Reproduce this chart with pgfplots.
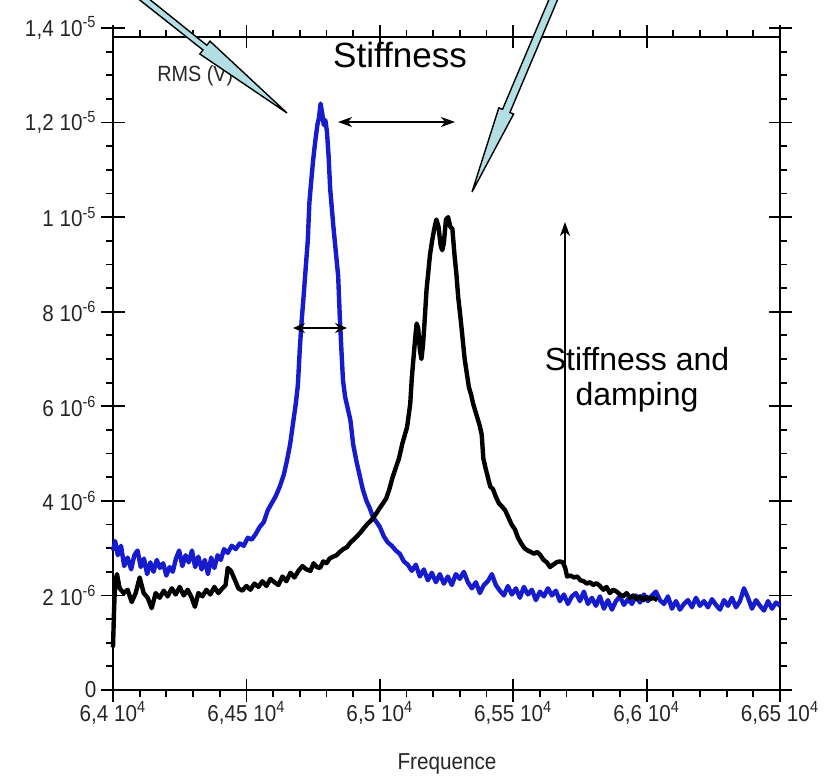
\documentclass[border=0pt]{standalone}
\usepackage{fontspec}
\setmainfont{Liberation Sans}
\newfontfamily\tickfont[FakeStretch=0.9]{Liberation Sans}
\usepackage{pgfplots}
\usepackage{pgfplotstable}
\pgfplotsset{compat=1.18}
\usetikzlibrary{arrows.meta}
\definecolor{curveblue}{RGB}{22,28,205}
\definecolor{callout}{RGB}{178,222,228}

% values in units of 1e-6 V
\pgfplotstableread{
f v
64000 2.95
64008 3.15
64018 2.85
64030 3.05
64042 2.62
64055 2.80
64068 2.55
64080 2.85
64092 2.95
64104 2.60
64116 2.78
64128 2.45
64140 2.70
64152 2.50
64164 2.75
64176 2.58
64188 2.68
64200 2.42
64212 2.60
64224 2.50
64236 2.78
64248 2.95
64260 2.62
64272 2.85
64284 2.70
64296 2.95
64308 2.60
64320 2.82
64332 2.55
64344 2.75
64356 2.45
64368 2.80
64380 2.58
64392 2.85
64404 2.75
64416 2.98
64430 2.90
64445 3.05
64460 2.98
64475 3.10
64490 3.05
64505 3.22
64520 3.18
64535 3.30
64550 3.45
64565 3.55
64580 3.80
64595 3.95
64610 4.10
64625 4.30
64640 4.55
64652 4.85
64664 5.20
64675 5.65
64685 6.05
64693 6.45
64700 7.20
64707 7.80
64714 8.30
64722 8.90
64730 9.50
64736 10.30
64742 10.70
64750 11.20
64758 11.60
64766 11.95
64772 12.10
64778 12.40
64784 12.20
64790 11.95
64796 12.05
64802 11.80
64808 11.30
64814 10.60
64820 10.20
64826 9.80
64832 9.45
64838 9.10
64844 8.75
64850 7.90
64856 7.20
64862 6.55
64870 6.20
64880 5.95
64890 5.70
64900 5.20
64912 4.85
64924 4.55
64936 4.25
64950 4.00
64962 3.85
64975 3.65
64988 3.55
65000 3.45
65015 3.25
65030 3.12
65045 3.05
65060 2.95
65075 2.88
65090 2.72
65105 2.65
65120 2.52
65135 2.65
65150 2.40
65165 2.55
65180 2.32
65195 2.48
65210 2.28
65225 2.45
65240 2.25
65255 2.40
65270 2.22
65285 2.45
65300 2.35
65315 2.50
65330 2.28
65345 2.15
65360 2.28
65375 2.05
65390 2.22
65405 2.30
65420 2.45
65435 2.22
65450 2.10
65465 2.00
65480 2.20
65495 2.02
65510 2.15
65525 1.95
65540 2.18
65555 2.02
65570 2.12
65585 1.90
65600 2.08
65615 1.98
65630 2.15
65645 2.00
65660 2.10
65675 1.88
65690 2.02
65705 1.82
65720 1.98
65735 2.05
65750 1.88
65765 2.08
65780 1.82
65795 1.95
65810 1.78
65825 1.98
65840 1.72
65855 1.90
65870 1.70
65885 1.88
65900 1.98
65915 1.80
65930 1.92
65945 1.82
65960 2.00
65975 1.85
65990 2.02
66005 1.88
66020 2.00
66035 2.08
66050 1.90
66065 1.82
66080 1.98
66095 1.72
66110 1.88
66125 1.70
66140 1.82
66155 1.90
66170 1.75
66185 1.95
66200 1.78
66215 1.88
66230 1.75
66245 1.92
66260 1.80
66275 1.70
66290 1.90
66305 1.78
66320 1.95
66335 1.75
66350 1.88
66365 2.15
66380 1.95
66395 1.72
66410 1.90
66425 1.78
66440 1.68
66455 1.88
66470 1.72
66485 1.85
66500 1.78
}\bluedata

\pgfplotstableread{
f v
64000 0.90
64004 1.70
64008 2.30
64015 2.45
64025 2.15
64040 2.05
64055 2.12
64070 1.86
64085 2.05
64100 2.38
64115 2.05
64130 1.95
64145 1.73
64160 2.05
64175 1.95
64190 2.10
64205 1.98
64220 2.15
64235 2.02
64250 2.18
64265 2.00
64280 2.12
64295 1.95
64307 1.76
64320 2.05
64335 1.98
64350 2.12
64365 2.02
64380 2.18
64395 2.05
64410 2.15
64422 2.22
64430 2.58
64442 2.52
64455 2.35
64470 2.15
64485 2.10
64500 2.20
64515 2.12
64530 2.25
64545 2.18
64560 2.30
64575 2.20
64590 2.35
64605 2.28
64620 2.22
64635 2.40
64650 2.30
64665 2.48
64680 2.38
64695 2.52
64710 2.62
64725 2.55
64740 2.52
64752 2.68
64764 2.60
64776 2.58
64788 2.72
64800 2.68
64812 2.78
64825 2.82
64838 2.85
64850 2.92
64863 2.98
64877 3.02
64890 3.12
64902 3.18
64914 3.25
64926 3.32
64940 3.42
64955 3.52
64970 3.60
64985 3.72
65000 3.85
65012 3.95
65024 4.05
65036 4.25
65048 4.50
65060 4.70
65072 4.90
65084 5.20
65094 5.40
65102 5.55
65108 5.80
65114 6.05
65120 6.60
65126 7.00
65132 7.40
65138 7.75
65144 7.65
65150 7.20
65156 7.00
65162 7.30
65168 7.80
65175 8.45
65182 8.85
65188 9.20
65196 9.50
65204 9.75
65212 9.95
65220 9.80
65228 9.40
65234 9.30
65240 9.45
65248 9.95
65256 10.00
65264 9.80
65272 9.75
65280 9.20
65287 8.80
65294 8.30
65302 7.90
65310 7.45
65318 7.00
65326 6.70
65334 6.40
65342 6.25
65350 6.05
65358 5.90
65366 5.75
65374 5.60
65382 5.40
65388 4.90
65396 4.70
65405 4.50
65414 4.30
65424 4.25
65434 4.10
65446 3.95
65458 3.88
65470 3.80
65482 3.65
65494 3.50
65506 3.40
65518 3.22
65530 3.10
65542 3.00
65554 2.95
65566 2.92
65578 2.88
65590 2.92
65602 2.85
65614 2.75
65626 2.70
65638 2.60
65650 2.65
65662 2.70
65674 2.72
65686 2.70
65695 2.58
65702 2.40
65715 2.42
65728 2.38
65740 2.40
65752 2.32
65764 2.30
65776 2.25
65788 2.28
65800 2.22
65812 2.26
65825 2.20
65838 2.12
65850 2.18
65862 2.05
65875 2.12
65888 2.08
65900 2.02
65912 1.98
65925 2.05
65938 1.95
65950 2.00
65962 1.92
65975 1.98
65988 1.90
66000 1.97
66012 1.92
66025 1.95
66040 1.90
}\blackdata

\pgfplotsset{
  base/.style={
    scale only axis, width=333.5pt, height=331pt,
    at={(0pt,0pt)}, anchor=south west,
    xmin=64000, xmax=66500, ymin=0, ymax=14,
    scaled ticks=false,
    axis line style={line width=0.9pt, black},
    tick style={line width=0.9pt, black},
    tick label style={font=\tickfont\fontsize{11.5}{13}\selectfont, text=black!85},
  },
}

\begin{document}
\begin{tikzpicture}
\useasboundingbox (-56.5pt,-43pt) rectangle (357.5pt,345pt);
\clip (-56.5pt,-43pt) rectangle (357.5pt,345pt);

% minor ticks pointing outward (drawn as short major ticks without labels)
\begin{axis}[base,
  axis x line*=bottom, axis y line*=box,
  x axis line style={shorten <=-5pt, shorten >=-5pt},
  xtick={64000,64100,...,66500}, xticklabels={},
  ytick={0,0.5,...,14}, yticklabels={},
  tick align=outside, major tick length=3.5pt, minor tick num=0,
]
\end{axis}

% main axis: data, major ticks crossing the lines
\begin{axis}[base, clip=false,
  axis x line*=bottom, axis y line*=box,
  x axis line style={shorten <=-5pt, shorten >=-5pt},
  tick align=center, major tick length=11.5pt,
  xtick={64000,64500,65000,65500,66000,66500},
  xticklabels={{6,4 10\textsuperscript{4}},{6,45 10\textsuperscript{4}},{6,5 10\textsuperscript{4}},{6,55 10\textsuperscript{4}},{6,6 10\textsuperscript{4}},{6,65 10\textsuperscript{4}}},
  xticklabel style={yshift=3.5pt},
  ytick={0,2,4,6,8,10,12,14},
  yticklabels={0,{2 10\textsuperscript{-6}},{4 10\textsuperscript{-6}},{6 10\textsuperscript{-6}},{8 10\textsuperscript{-6}},{1 10\textsuperscript{-5}},{1,2 10\textsuperscript{-5}},{1,4 10\textsuperscript{-5}}},
  yticklabel style={xshift=1pt},
  minor tick num=0,
]
\addplot[curveblue, line width=2.2pt, line join=round] table[x=f,y=v] {\bluedata};
\addplot[black, line width=2.2pt, line join=round] table[x=f,y=v] {\blackdata};
\end{axis}

% top frame line (set slightly below 1,4e-5)
\begin{axis}[base, height=326.5pt, ymin=0, ymax=1,
  axis x line*=top, axis y line=none,
  xtick={64000,64100,...,66500}, xticklabels={},
  ytick=\empty, tick align=outside, major tick length=3.5pt,
]
\end{axis}
\begin{axis}[base, height=326.5pt, ymin=0, ymax=1,
  axis x line*=top, axis y line=none,
  xtick={64000,64500,65000,65500,66000,66500}, xticklabels={},
  ytick=\empty, tick align=center, major tick length=11.5pt,
]
\end{axis}

% annotations in pixel coordinates of the reference
\begin{scope}[shift={(-56.5pt,345pt)}, x=0.5pt, y=-0.5pt]
  \node[font=\tickfont\fontsize{11}{12}\selectfont, text=black!85, anchor=west, inner sep=0pt] at (157,76) {RMS (V)};
  \node[font=\fontsize{17.5}{20}\selectfont, inner sep=0pt] at (400,55) {Stiffness};
  \node[font=\fontsize{16}{17.5}\selectfont, align=center, inner sep=0pt] at (637,380) {Stiffness and\\damping};
  \node[font=\tickfont\fontsize{11.5}{13}\selectfont, text=black!85, inner sep=0pt] at (447,764) {Frequence};
  \draw[line width=0.6pt, {Stealth[length=7pt,width=5pt,inset=2pt]}-{Stealth[length=7pt,width=5pt,inset=2pt]}] (338,122) -- (455,122);
  \draw[line width=0.6pt, {Stealth[length=6pt,width=5pt,inset=2pt]}-{Stealth[length=6pt,width=5pt,inset=2pt]}] (293,328) -- (347,328);
  \draw[line width=0.6pt, -{Stealth[length=7pt,width=5pt,inset=2pt]}] (565,565) -- (565,222);
  % callouts
  \filldraw[fill=callout, draw=black, line width=0.7pt, line join=miter]
    (287,113) -- (210.0,41.2) -- (206.8,45.3) -- (117.2,-26.7) -- (112.8,-21.3) -- (203.0,50.0) -- (199.8,54.0) -- cycle;
  \filldraw[fill=callout, draw=black, line width=0.7pt, line join=miter]
    (472,192) -- (513.6,114.1) -- (509.9,112.5) -- (565.2,-18.3) -- (557.8,-21.4) -- (502.5,109.4) -- (498.8,107.9) -- cycle;
\end{scope}
\end{tikzpicture}
\end{document}
